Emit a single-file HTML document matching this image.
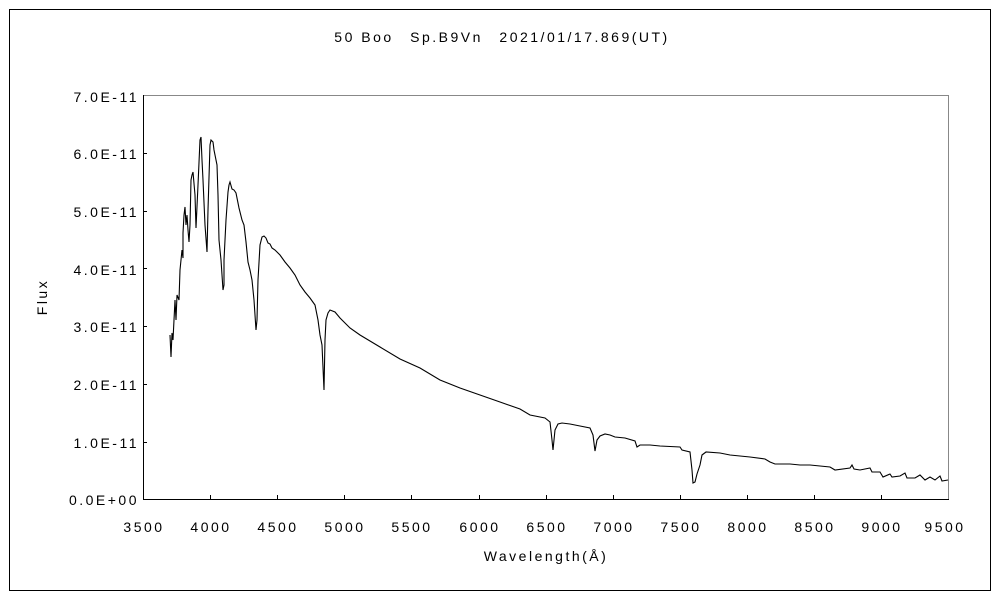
<!DOCTYPE html>
<html><head><meta charset="utf-8"><style>
html,body{margin:0;padding:0;background:#fff;width:1000px;height:600px;overflow:hidden}
svg text{font-family:"Liberation Sans","Noto Sans CJK JP",sans-serif;font-size:14px;fill:#000;letter-spacing:2.5px}
</style></head><body>
<svg width="1000" height="600" xmlns="http://www.w3.org/2000/svg">
<rect x="9.5" y="9.5" width="981" height="581" fill="none" stroke="#000"/>
<text x="502" y="42" text-anchor="middle">50 Boo　Sp.B9Vn　2021/01/17.869(UT)</text>
<rect x="143.5" y="95.5" width="805" height="404" fill="none" stroke="#888"/>
<line x1="143.5" y1="95" x2="143.5" y2="500" stroke="#000"/>
<line x1="143" y1="499.5" x2="949" y2="499.5" stroke="#000"/>
<g stroke="#000">
<line x1="143" y1="153.5" x2="147" y2="153.5"/><line x1="143" y1="211.5" x2="147" y2="211.5"/><line x1="143" y1="268.5" x2="147" y2="268.5"/><line x1="143" y1="326.5" x2="147" y2="326.5"/><line x1="143" y1="384.5" x2="147" y2="384.5"/><line x1="143" y1="442.5" x2="147" y2="442.5"/>
<line x1="210.5" y1="495" x2="210.5" y2="499"/><line x1="277.5" y1="495" x2="277.5" y2="499"/><line x1="344.5" y1="495" x2="344.5" y2="499"/><line x1="411.5" y1="495" x2="411.5" y2="499"/><line x1="479.5" y1="495" x2="479.5" y2="499"/><line x1="546.5" y1="495" x2="546.5" y2="499"/><line x1="613.5" y1="495" x2="613.5" y2="499"/><line x1="680.5" y1="495" x2="680.5" y2="499"/><line x1="747.5" y1="495" x2="747.5" y2="499"/><line x1="814.5" y1="495" x2="814.5" y2="499"/><line x1="881.5" y1="495" x2="881.5" y2="499"/>
</g>
<g text-anchor="end">
<text x="139" y="102">7.0E-11</text><text x="139" y="159">6.0E-11</text><text x="139" y="217">5.0E-11</text><text x="139" y="275">4.0E-11</text><text x="139" y="332">3.0E-11</text><text x="139" y="390">2.0E-11</text><text x="139" y="448">1.0E-11</text><text x="139" y="505">0.0E+00</text>
</g>
<g text-anchor="middle">
<text x="144" y="532">3500</text><text x="211" y="532">4000</text><text x="278" y="532">4500</text><text x="345" y="532">5000</text><text x="412" y="532">5500</text><text x="480" y="532">6000</text><text x="547" y="532">6500</text><text x="614" y="532">7000</text><text x="681" y="532">7500</text><text x="748" y="532">8000</text><text x="815" y="532">8500</text><text x="882" y="532">9000</text><text x="945" y="532">9500</text>
<text x="546" y="561">Wavelength(Å)</text>
<text x="47" y="297" transform="rotate(-90 47 297)">Flux</text>
</g>
<polyline fill="none" stroke="#000" stroke-width="1.1" points="170,335 171,357 172,333 173,340 175,300 176,320 177,295 179,300 180,270 182,250 183,258 183,233 184,215 185,207 186,225 187,215 188,230 189,242 190,225 191,180 192,175 193,172 195,195 196,228 198,185 200,140 201,137 202,160 203,180 205,225 207,252 208,210 210,145 211,140 213,142 214,150 215,155 217,165 218,195 219,240 221,260 223,290 224,285 224,260 226,220 228,192 229,185 230,182 232,189 234,190 236,193 237,198 239,208 240,212 242,220 244,225 246,242 248,262 250,270 252,280 254,300 256,330 257,320 258,280 260,245 262,237 264,236 266,238 268,243 270,244 272,248 275,250 280,255 285,262 290,268 295,275 300,285 305,292 310,298 315,305 318,320 320,335 322,345 324,390 325,340 326,320 328,313 330,310 335,312 340,318 350,328 360,335 380,347 400,359 420,368 440,380 460,388 480,395 500,402 520,409 530,415 545,418 550,422 552,440 553,450 555,430 558,424 562,423 570,424 580,426 590,428 593,435 595,451 597,440 600,436 605,434 610,435 615,437 625,438 635,441 637,447 640,445 650,445 660,446 680,447 682,450 690,452 692,470 693,483 695,482 697,474 700,465 702,455 706,452 720,453 730,455 750,457 765,459 770,462 775,464 790,464 800,465 810,465 830,467 835,470 850,468 852,465 854,469 860,470 870,468 872,472 880,472 883,477 890,474 892,477 900,476 905,473 907,478 915,478 920,475 925,480 930,477 935,480 940,476 942,481 948,480"/>
</svg>
</body></html>
